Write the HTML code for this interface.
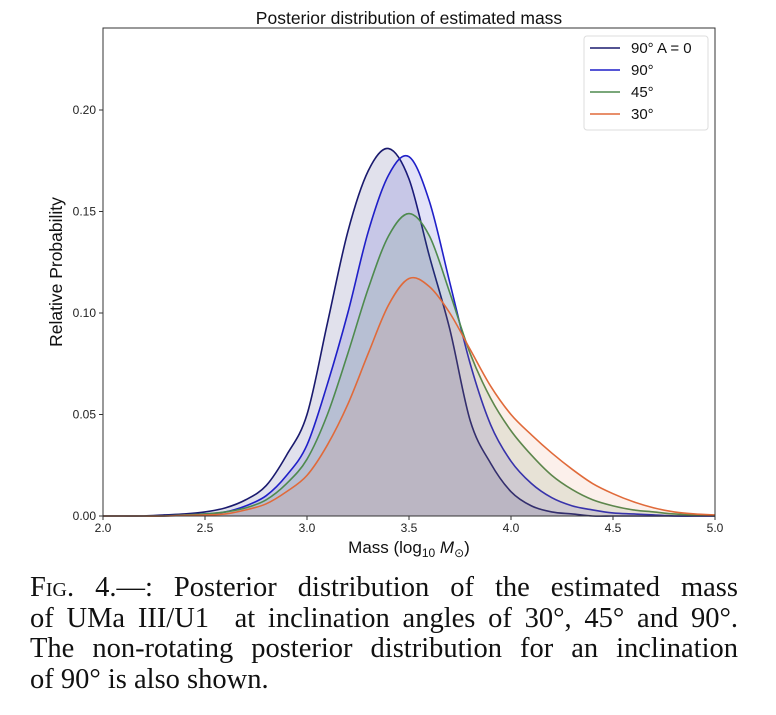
<!DOCTYPE html>
<html><head><meta charset="utf-8"><style>
body{margin:0;background:#fff;width:776px;height:715px;overflow:hidden}
#cap{position:absolute;left:30px;top:573px;width:708px;font-family:"Liberation Serif",serif;font-size:28.5px;line-height:30.5px;color:#111}
#cap .ln{display:block;text-align:justify;text-align-last:justify;white-space:nowrap}
#cap .last{text-align-last:left}
.sc{font-variant:small-caps}
</style></head><body>
<svg id="chart" width="776" height="570" style="position:absolute;left:0;top:0" font-family="Liberation Sans, sans-serif"></svg>
<div id="cap"><span class="ln"><span class="sc">Fig. 4.</span>—: Posterior distribution of the estimated mass</span><span class="ln">of UMa III/U1&nbsp; at inclination angles of 30°, 45° and 90°.</span><span class="ln">The non-rotating posterior distribution for an inclination</span><span class="ln last">of 90° is also shown.</span></div>
<script>
const xs=[2.0,2.1,2.2,2.3,2.4,2.5,2.6,2.7,2.8,2.9,3.0,3.1,3.2,3.3,3.4,3.5,3.6,3.7,3.8,3.9,4.0,4.1,4.2,4.3,4.4,4.5,4.6,4.7,4.8,4.9,5.0];
const seriesA0=[0,0,0,0.0005,0.001,0.002,0.004,0.008,0.015,0.03,0.05,0.095,0.14,0.17,0.181,0.166,0.128,0.092,0.047,0.026,0.012,0.005,0.002,0.001,0,0,0,0,0,0,0];
const series90=[0,0,0,0,0.0005,0.001,0.002,0.005,0.01,0.02,0.035,0.065,0.1,0.14,0.168,0.177,0.155,0.115,0.075,0.045,0.027,0.016,0.009,0.005,0.003,0.0015,0.001,0.0005,0,0,0];
const series45=[0,0,0,0,0.0005,0.001,0.002,0.004,0.008,0.016,0.028,0.05,0.08,0.112,0.138,0.149,0.138,0.11,0.08,0.058,0.042,0.03,0.02,0.013,0.008,0.005,0.003,0.002,0.001,0.0005,0];
const series30=[0,0,0,0,0.0003,0.0005,0.001,0.003,0.006,0.012,0.02,0.035,0.055,0.08,0.104,0.117,0.113,0.1,0.082,0.064,0.05,0.04,0.031,0.023,0.016,0.011,0.007,0.004,0.002,0.001,0.0005];
const xTicks=[2.0,2.5,3.0,3.5,4.0,4.5,5.0];
const yTicks=[0.00,0.05,0.10,0.15,0.20];
const legendLabels=["90° A = 0","90°","45°","30°"];
const colors=["#1a1a6e","#1f1fc8","#4e8a4e","#e06a3a"];
const L=103,R=715,T=28,B=516;
const sx=v=>L+(v-2)/3*(R-L);
const sy=v=>B-v*2030;
const NS="http://www.w3.org/2000/svg";
const svg=document.getElementById('chart');
function mk(t,a,p){const e=document.createElementNS(NS,t);for(const k in a)e.setAttribute(k,a[k]);(p||svg).appendChild(e);return e;}
function path(ys){const p=xs.map((x,i)=>[sx(x),sy(ys[i])]);let d="M"+p[0][0]+","+p[0][1];
for(let i=0;i<p.length-1;i++){const p0=p[i-1]||p[i],p1=p[i],p2=p[i+1],p3=p[i+2]||p[i+1];
d+=" C"+(p1[0]+(p2[0]-p0[0])/6)+","+(p1[1]+(p2[1]-p0[1])/6)+" "+(p2[0]-(p3[0]-p1[0])/6)+","+(p2[1]-(p3[1]-p1[1])/6)+" "+p2[0]+","+p2[1];}
return d;}
const all=[seriesA0,series90,series45,series30];
const names=["a0-90","90","45","30"];
const ops=[0.13,0.13,0.13,0.1];
all.forEach((s,i)=>{const d=path(s);
const f=mk('path',{d:d+" L"+sx(5)+","+B+" L"+sx(2)+","+B+" Z",fill:colors[i],'fill-opacity':ops[i],stroke:'none'});


const l=mk('path',{d:d,fill:'none',stroke:colors[i],'stroke-width':1.6});

});
const fr=mk('rect',{x:L,y:T,width:R-L,height:B-T,fill:'none',stroke:'#333','stroke-width':1});

xTicks.forEach(v=>{mk('line',{x1:sx(v),x2:sx(v),y1:B,y2:B+4,stroke:'#333'});
const t=mk('text',{x:sx(v),y:B+16,'text-anchor':'middle','font-size':12,fill:'#222'});t.textContent=v.toFixed(1);
});
yTicks.forEach(v=>{mk('line',{x1:L-4,x2:L,y1:sy(v),y2:sy(v),stroke:'#333'});
const t=mk('text',{x:L-7,y:sy(v)+4,'text-anchor':'end','font-size':12,fill:'#222'});t.textContent=v.toFixed(2);
});
const ti=mk('text',{x:409,y:24,'text-anchor':'middle','font-size':17.5,fill:'#111'});ti.textContent="Posterior distribution of estimated mass";

const yl=mk('text',{x:62,y:272,'text-anchor':'middle','font-size':17.5,fill:'#111',transform:'rotate(-90 62 272)'});yl.textContent="Relative Probability";

const xl=mk('text',{x:409,y:553,'text-anchor':'middle','font-size':17,fill:'#111'});
xl.innerHTML='Mass (log<tspan font-size="12" dy="4">10</tspan><tspan dy="-4" font-style="italic"> M</tspan><tspan font-size="12" dy="4">⊙</tspan><tspan dy="-4">)</tspan>';

const lg=mk('g',{});
mk('rect',{x:584,y:36,width:124,height:94,fill:'#fff','fill-opacity':0.85,stroke:'#ddd',rx:3},lg);
legendLabels.forEach((s,i)=>{const y=48+i*22;
mk('line',{x1:590,x2:620,y1:y,y2:y,stroke:colors[i],'stroke-width':1.6},lg);
const t=mk('text',{x:631,y:y+5,'font-size':15,fill:'#111'},lg);t.textContent=s;
});
</script>
</body></html>
